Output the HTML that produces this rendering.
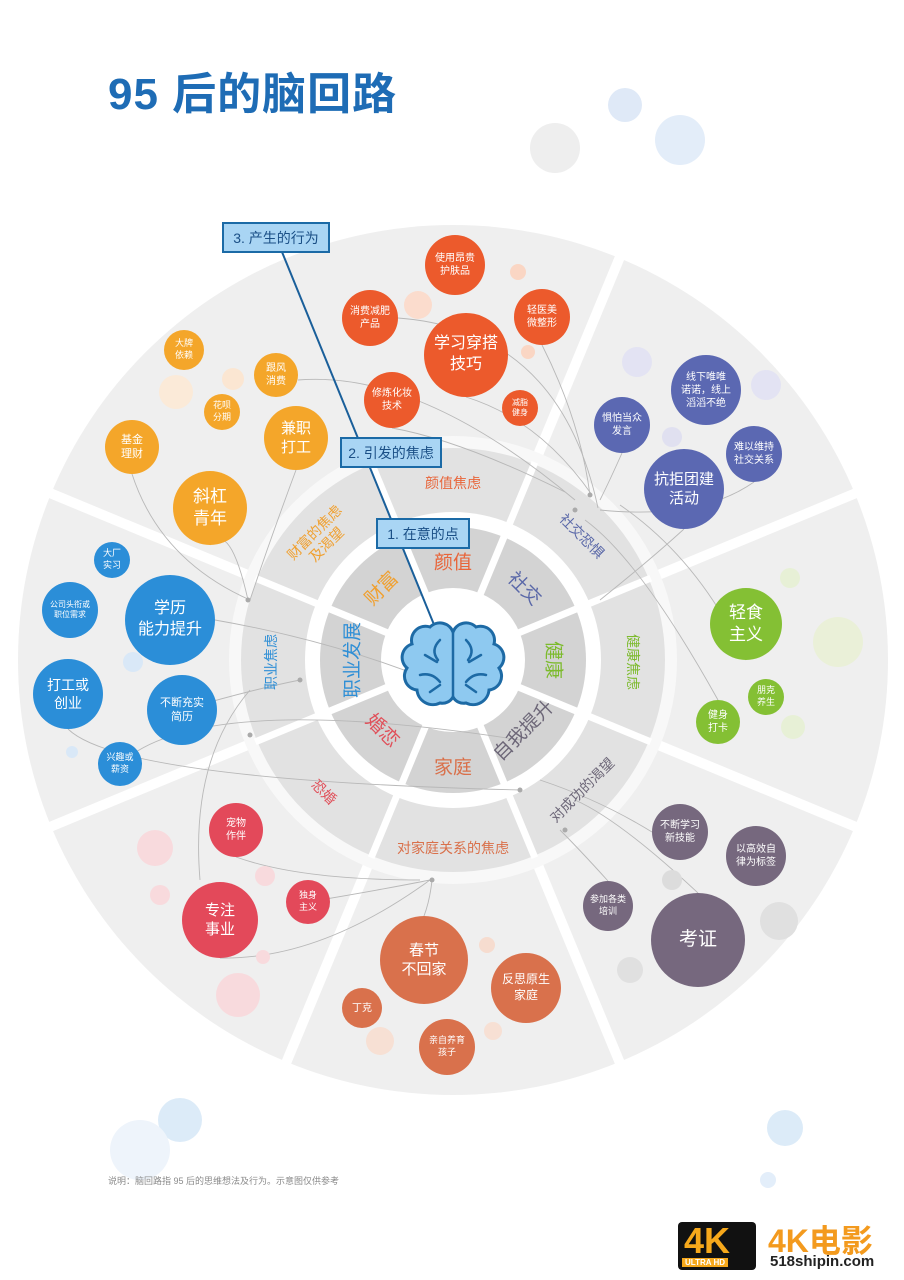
<!DOCTYPE html>
<html><head><meta charset="utf-8">
<style>
body{margin:0;background:#fff;}
#w{position:relative;width:904px;height:1280px;overflow:hidden;background:#fff;font-family:"Liberation Sans","Noto Sans CJK SC",sans-serif;}
.b{position:absolute;border-radius:50%;display:flex;align-items:center;justify-content:center;text-align:center;color:#fff;line-height:1.3;}
.f{position:absolute;border-radius:50%;}
.lb{position:absolute;background:#a9d5f4;border:2px solid #1b6aa6;color:#1a4f86;font-size:14px;display:flex;align-items:center;justify-content:center;box-sizing:border-box;}
</style></head><body><div id="w">
<div style="position:absolute;left:108px;top:58px;font-size:44px;font-weight:bold;color:#1e6cb5;letter-spacing:1px;">95 后的脑回路</div>
<div class="f" style="left:608px;top:88px;width:34px;height:34px;background:#dfe9f7"></div>
<div class="f" style="left:655px;top:115px;width:50px;height:50px;background:#e3edf9"></div>
<div class="f" style="left:530px;top:123px;width:50px;height:50px;background:#eeeeee"></div>
<div class="f" style="left:158px;top:1098px;width:44px;height:44px;background:#dcebf8"></div>
<div class="f" style="left:110px;top:1120px;width:60px;height:60px;background:#eef4fb"></div>
<div class="f" style="left:767px;top:1110px;width:36px;height:36px;background:#dcebf8"></div>
<div class="f" style="left:760px;top:1172px;width:16px;height:16px;background:#e3eefa"></div>

<svg width="904" height="1280" style="position:absolute;left:0;top:0">
<g transform="translate(453,660)">
<circle r="435" fill="#efefef"/>
<g stroke="#fff" stroke-width="10">
<line x1="0" y1="0" x2="0" y2="-450" transform="rotate(22.5)"/>
<line x1="0" y1="0" x2="0" y2="-450" transform="rotate(67.5)"/>
<line x1="0" y1="0" x2="0" y2="-450" transform="rotate(112.5)"/>
<line x1="0" y1="0" x2="0" y2="-450" transform="rotate(157.5)"/>
<line x1="0" y1="0" x2="0" y2="-450" transform="rotate(202.5)"/>
<line x1="0" y1="0" x2="0" y2="-450" transform="rotate(247.5)"/>
<line x1="0" y1="0" x2="0" y2="-450" transform="rotate(292.5)"/>
</g>
<circle r="224" fill="#f8f8f8"/>
<circle r="212" fill="#e2e2e2"/>
<circle r="148" fill="#fff"/>
<circle r="133" fill="#d3d3d3"/>
<circle r="72" fill="#fff"/>
<g stroke="#fff" stroke-width="7">
<line x1="0" y1="-70" x2="0" y2="-214" transform="rotate(22.5)"/>
<line x1="0" y1="-70" x2="0" y2="-214" transform="rotate(67.5)"/>
<line x1="0" y1="-70" x2="0" y2="-214" transform="rotate(112.5)"/>
<line x1="0" y1="-70" x2="0" y2="-214" transform="rotate(157.5)"/>
<line x1="0" y1="-70" x2="0" y2="-214" transform="rotate(202.5)"/>
<line x1="0" y1="-70" x2="0" y2="-214" transform="rotate(247.5)"/>
<line x1="0" y1="-70" x2="0" y2="-214" transform="rotate(292.5)"/>
<line x1="0" y1="-70" x2="0" y2="-214" transform="rotate(337.5)"/>
</g>
</g>
<g fill="none" stroke="#b8b8b8" stroke-width="0.9">
<path d="M210,545 Q230,520 248,600"/>
<path d="M296,470 Q270,540 250,600"/>
<path d="M132,474 Q160,560 250,600"/>
<path d="M298,380 Q420,370 575,500"/>
<path d="M392,428 Q460,440 565,492"/>
<path d="M466,397 Q540,420 592,495"/>
<path d="M398,318 Q560,330 598,508"/>
<path d="M542,345 Q580,420 590,495"/>
<path d="M622,453 Q610,480 600,500"/>
<path d="M684,529 Q650,560 600,600"/>
<path d="M754,482 Q700,520 600,510"/>
<path d="M718,700 Q640,560 585,520"/>
<path d="M746,660 Q700,560 620,505"/>
<path d="M215,620 Q330,640 430,680"/>
<path d="M182,710 Q250,690 300,680"/>
<path d="M68,729 Q120,780 520,790"/>
<path d="M120,764 Q200,690 520,740"/>
<path d="M652,832 Q600,800 540,780"/>
<path d="M698,893 Q620,820 575,800"/>
<path d="M608,881 Q580,850 560,830"/>
<path d="M236,857 Q300,880 420,880"/>
<path d="M220,958 Q320,960 430,880"/>
<path d="M308,902 Q380,890 430,880"/>
<path d="M424,916 Q430,900 432,880"/>
<path d="M200,880 Q190,760 250,690"/>
</g>
<g fill="#aaa"><circle cx="248" cy="600" r="2.5"/><circle cx="590" cy="495" r="2.5"/><circle cx="575" cy="510" r="2.5"/><circle cx="432" cy="880" r="2.5"/><circle cx="565" cy="830" r="2.5"/><circle cx="250" cy="735" r="2.5"/><circle cx="300" cy="680" r="2.5"/><circle cx="520" cy="790" r="2.5"/></g>

<g font-family="Liberation Sans,Noto Sans CJK SC,sans-serif" text-anchor="middle" dominant-baseline="central">
<g font-size="19">
<text x="453" y="563" fill="#e8653a">颜值</text>
<text transform="translate(524,589) rotate(45)" fill="#5a68a8">社交</text>
<text transform="translate(553,660) rotate(90)" fill="#7cbb2c">健康</text>
<text transform="translate(524,731) rotate(-45)" fill="#6d6778">自我提升</text>
<text x="453" y="768" fill="#d9704a">家庭</text>
<text transform="translate(382,731) rotate(45)" fill="#e0505a">婚恋</text>
<text transform="translate(353,660) rotate(-90)" fill="#2f8fd6">职业发展</text>
<text transform="translate(382,589) rotate(-45)" fill="#f0a030">财富</text>
</g>
<g font-size="14">
<text x="453" y="483" fill="#e8653a">颜值焦虑</text>
<text transform="translate(582,536) rotate(45)" fill="#5a68a8">社交恐惧</text>
<text transform="translate(633,662) rotate(90)" fill="#7cbb2c">健康焦虑</text>
<text transform="translate(582,790) rotate(-45)" fill="#6d6778">对成功的渴望</text>
<text x="453" y="848" fill="#d9704a">对家庭关系的焦虑</text>
<text transform="translate(324,792) rotate(45)" fill="#e0505a">恐婚</text>
<text transform="translate(271,662) rotate(-90)" fill="#2f8fd6">职业焦虑</text>
<text transform="translate(320,538) rotate(-45)" fill="#f0a030"><tspan x="0" dy="-8">财富的焦虑</tspan><tspan x="0" dy="17">及渴望</tspan></text>
</g>
</g>
<line x1="282" y1="252" x2="437" y2="632" stroke="#1a5f9a" stroke-width="2"/>
<path d="M453,632 A14 14 0 0 0 430,627 A14 14 0 0 0 412,644 A14 14 0 0 0 407,668 A14 14 0 0 0 417,690 A16 16 0 0 0 440,703 A12 12 0 0 0 453,697 A12 12 0 0 0 466,703 A16 16 0 0 0 489,690 A14 14 0 0 0 499,668 A14 14 0 0 0 494,644 A14 14 0 0 0 476,627 A14 14 0 0 0 453,632 Z" fill="#8ec9f0" stroke="#1d6aa5" stroke-width="3"/>
<g fill="none" stroke="#1d6aa5" stroke-width="2.5" stroke-linecap="round">
<path d="M453,632 L453,697"/>
<path d="M440,640 Q430,650 438,660 M425,655 L437,662 M420,675 Q432,672 440,682 M430,692 L440,685"/>
<path d="M466,640 Q476,650 468,660 M481,655 L469,662 M486,675 Q474,672 466,682 M476,692 L466,685"/>
</g>
</svg>

<div class="lb" style="left:222px;top:222px;width:108px;height:31px;">3. 产生的行为</div>
<div class="lb" style="left:340px;top:437px;width:102px;height:31px;">2. 引发的焦虑</div>
<div class="lb" style="left:376px;top:518px;width:94px;height:31px;">1. 在意的点</div>

<div class="f" style="left:159px;top:375px;width:34px;height:34px;background:#fbead8"></div>
<div class="f" style="left:222px;top:368px;width:22px;height:22px;background:#fbe6d2"></div>
<div class="f" style="left:404px;top:291px;width:28px;height:28px;background:#fbdccd"></div>
<div class="f" style="left:510px;top:264px;width:16px;height:16px;background:#fad6c4"></div>
<div class="f" style="left:521px;top:345px;width:14px;height:14px;background:#fad6c4"></div>
<div class="f" style="left:622px;top:347px;width:30px;height:30px;background:#e3e3f3"></div>
<div class="f" style="left:751px;top:370px;width:30px;height:30px;background:#e3e3f3"></div>
<div class="f" style="left:662px;top:427px;width:20px;height:20px;background:#e0e0f0"></div>
<div class="f" style="left:780px;top:568px;width:20px;height:20px;background:#e7f0d6"></div>
<div class="f" style="left:813px;top:617px;width:50px;height:50px;background:#eaf0d8"></div>
<div class="f" style="left:781px;top:715px;width:24px;height:24px;background:#e7f0d6"></div>
<div class="f" style="left:662px;top:870px;width:20px;height:20px;background:#dcdcdc"></div>
<div class="f" style="left:760px;top:902px;width:38px;height:38px;background:#e0e0e0"></div>
<div class="f" style="left:617px;top:957px;width:26px;height:26px;background:#e0e0e0"></div>
<div class="f" style="left:479px;top:937px;width:16px;height:16px;background:#f6dccf"></div>
<div class="f" style="left:366px;top:1027px;width:28px;height:28px;background:#f7e0d4"></div>
<div class="f" style="left:484px;top:1022px;width:18px;height:18px;background:#f7e0d4"></div>
<div class="f" style="left:137px;top:830px;width:36px;height:36px;background:#f8dadd"></div>
<div class="f" style="left:150px;top:885px;width:20px;height:20px;background:#f8dadd"></div>
<div class="f" style="left:216px;top:973px;width:44px;height:44px;background:#f8dadd"></div>
<div class="f" style="left:255px;top:866px;width:20px;height:20px;background:#f8dadd"></div>
<div class="f" style="left:256px;top:950px;width:14px;height:14px;background:#f8dadd"></div>
<div class="f" style="left:123px;top:652px;width:20px;height:20px;background:#d9e8f7"></div>
<div class="f" style="left:66px;top:746px;width:12px;height:12px;background:#d9e8f7"></div>

<div class="b" style="left:164px;top:330px;width:40px;height:40px;background:#f4a62a;font-size:9px">大牌<br>依赖</div>
<div class="b" style="left:254px;top:353px;width:44px;height:44px;background:#f4a62a;font-size:10px">跟风<br>消费</div>
<div class="b" style="left:204px;top:394px;width:36px;height:36px;background:#f4a62a;font-size:9px">花呗<br>分期</div>
<div class="b" style="left:105px;top:420px;width:54px;height:54px;background:#f4a62a;font-size:11px">基金<br>理财</div>
<div class="b" style="left:264px;top:406px;width:64px;height:64px;background:#f4a62a;font-size:15px">兼职<br>打工</div>
<div class="b" style="left:173px;top:471px;width:74px;height:74px;background:#f4a62a;font-size:17px">斜杠<br>青年</div>
<div class="b" style="left:425px;top:235px;width:60px;height:60px;background:#ec5a2c;font-size:10px">使用昂贵<br>护肤品</div>
<div class="b" style="left:342px;top:290px;width:56px;height:56px;background:#ec5a2c;font-size:10px">消费减肥<br>产品</div>
<div class="b" style="left:424px;top:313px;width:84px;height:84px;background:#ec5a2c;font-size:16px">学习穿搭<br>技巧</div>
<div class="b" style="left:514px;top:289px;width:56px;height:56px;background:#ec5a2c;font-size:10px">轻医美<br>微整形</div>
<div class="b" style="left:364px;top:372px;width:56px;height:56px;background:#ec5a2c;font-size:10px">修炼化妆<br>技术</div>
<div class="b" style="left:502px;top:390px;width:36px;height:36px;background:#ec5a2c;font-size:8px">减脂<br>健身</div>
<div class="b" style="left:671px;top:355px;width:70px;height:70px;background:#5b68b2;font-size:10px">线下唯唯<br>诺诺，线上<br>滔滔不绝</div>
<div class="b" style="left:594px;top:397px;width:56px;height:56px;background:#5b68b2;font-size:10px">惧怕当众<br>发言</div>
<div class="b" style="left:726px;top:426px;width:56px;height:56px;background:#5b68b2;font-size:10px">难以维持<br>社交关系</div>
<div class="b" style="left:644px;top:449px;width:80px;height:80px;background:#5b68b2;font-size:15px">抗拒团建<br>活动</div>
<div class="b" style="left:710px;top:588px;width:72px;height:72px;background:#84c034;font-size:17px">轻食<br>主义</div>
<div class="b" style="left:748px;top:679px;width:36px;height:36px;background:#84c034;font-size:9px">朋克<br>养生</div>
<div class="b" style="left:696px;top:700px;width:44px;height:44px;background:#84c034;font-size:10px">健身<br>打卡</div>
<div class="b" style="left:652px;top:804px;width:56px;height:56px;background:#76687e;font-size:10px">不断学习<br>新技能</div>
<div class="b" style="left:726px;top:826px;width:60px;height:60px;background:#76687e;font-size:10px">以高效自<br>律为标签</div>
<div class="b" style="left:583px;top:881px;width:50px;height:50px;background:#76687e;font-size:9px">参加各类<br>培训</div>
<div class="b" style="left:651px;top:893px;width:94px;height:94px;background:#76687e;font-size:19px">考证</div>
<div class="b" style="left:380px;top:916px;width:88px;height:88px;background:#d9714c;font-size:15px">春节<br>不回家</div>
<div class="b" style="left:491px;top:953px;width:70px;height:70px;background:#d9714c;font-size:12px">反思原生<br>家庭</div>
<div class="b" style="left:342px;top:988px;width:40px;height:40px;background:#d9714c;font-size:10px">丁克</div>
<div class="b" style="left:419px;top:1019px;width:56px;height:56px;background:#d9714c;font-size:9px">亲自养育<br>孩子</div>
<div class="b" style="left:209px;top:803px;width:54px;height:54px;background:#e3495a;font-size:10px">宠物<br>作伴</div>
<div class="b" style="left:286px;top:880px;width:44px;height:44px;background:#e3495a;font-size:9px">独身<br>主义</div>
<div class="b" style="left:182px;top:882px;width:76px;height:76px;background:#e3495a;font-size:15px">专注<br>事业</div>
<div class="b" style="left:94px;top:542px;width:36px;height:36px;background:#2b8ed8;font-size:9px">大厂<br>实习</div>
<div class="b" style="left:42px;top:582px;width:56px;height:56px;background:#2b8ed8;font-size:8px">公司头衔或<br>职位需求</div>
<div class="b" style="left:125px;top:575px;width:90px;height:90px;background:#2b8ed8;font-size:16px">学历<br>能力提升</div>
<div class="b" style="left:33px;top:659px;width:70px;height:70px;background:#2b8ed8;font-size:14px">打工或<br>创业</div>
<div class="b" style="left:147px;top:675px;width:70px;height:70px;background:#2b8ed8;font-size:11px">不断充实<br>简历</div>
<div class="b" style="left:98px;top:742px;width:44px;height:44px;background:#2b8ed8;font-size:9px">兴趣或<br>薪资</div>

<div style="position:absolute;left:108px;top:1174px;font-size:9px;color:#8a8a8a;">说明：脑回路指 95 后的思维想法及行为。示意图仅供参考</div>

<div style="position:absolute;left:678px;top:1222px;width:78px;height:48px;background:#111;border-radius:4px;"></div>
<div style="position:absolute;left:684px;top:1220px;font-size:36px;font-weight:bold;color:#f6a81b;font-family:'Liberation Sans',sans-serif;">4K</div>
<div style="position:absolute;left:682px;top:1258px;font-size:8px;font-weight:bold;color:#fff;background:#f6a81b;padding:0 3px;">ULTRA HD</div>
<div style="position:absolute;left:768px;top:1216px;font-size:32px;font-weight:bold;color:#f39a1e;">4K电影</div>
<div style="position:absolute;left:770px;top:1253px;font-size:15px;font-weight:bold;color:#222;">518shipin.com</div>
</div></body></html>
